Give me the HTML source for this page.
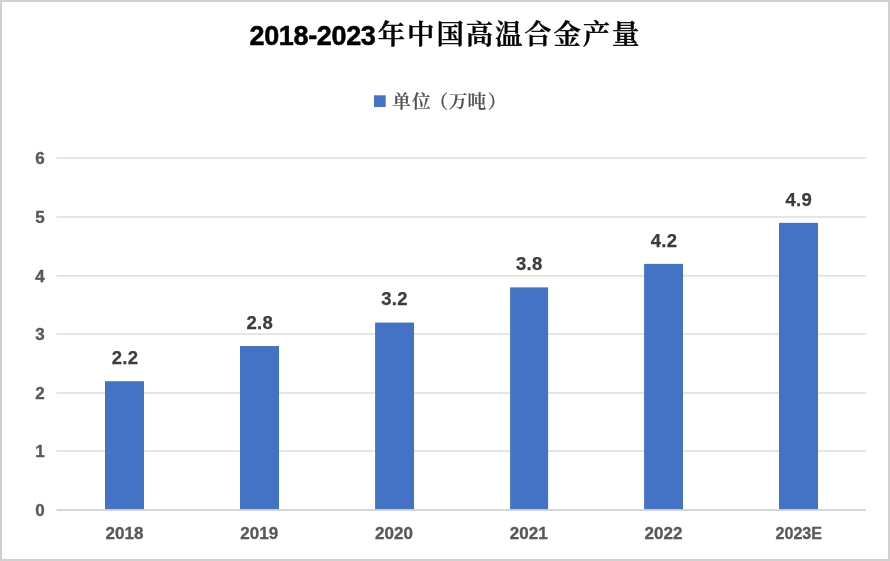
<!DOCTYPE html>
<html lang="zh-CN">
<head>
<meta charset="utf-8">
<title>2018-2023年中国高温合金产量</title>
<style>
html,body{margin:0;padding:0;background:#fff;}
body{width:890px;height:561px;overflow:hidden;position:relative;}
#chart{position:absolute;left:0;top:0;width:890px;height:561px;box-sizing:border-box;border:2px solid #d0d0d0;background:#fff;}
svg{position:absolute;left:0;top:0;display:block;}
.num{font-family:"Liberation Sans",sans-serif;font-weight:bold;}
.cjk{font-family:"Liberation Serif","Noto Serif CJK SC",serif;}
.axis{font-size:17px;fill:#595959;stroke:#595959;stroke-width:0.35px;}
.dl{font-size:18.5px;fill:#3c3c3c;stroke:#3c3c3c;stroke-width:0.25px;letter-spacing:0.4px;}
.ttl-n{font-size:27px;fill:#000;stroke:#000;stroke-width:0.5px;letter-spacing:-0.35px;}
.ttl-c{font-size:27.4px;font-weight:600;fill:#000;stroke:#000;stroke-width:0.45px;letter-spacing:1.9px;}
.lg{font-size:18.67px;font-weight:600;fill:#505050;stroke:#505050;stroke-width:0.2px;}
</style>
</head>
<body>
<div id="chart"></div>
<svg width="890" height="561" viewBox="0 0 890 561">
<rect x="56.5" y="450.25" width="809.5" height="1.5" fill="#dddddd"/>
<rect x="56.5" y="392.25" width="809.5" height="1.5" fill="#dddddd"/>
<rect x="56.5" y="333.25" width="809.5" height="1.5" fill="#dddddd"/>
<rect x="56.5" y="275.05" width="809.5" height="1.5" fill="#dddddd"/>
<rect x="56.5" y="216.25" width="809.5" height="1.5" fill="#dddddd"/>
<rect x="56.5" y="157.25" width="809.5" height="1.5" fill="#dddddd"/>
<rect x="56.5" y="509.25" width="809.5" height="1.5" fill="#c8c8c8"/>
<rect x="105" y="381.23" width="39.0" height="127.87" fill="#4472c4"/>
<rect x="240" y="346.03" width="39.0" height="163.07" fill="#4472c4"/>
<rect x="375.1" y="322.57" width="38.9" height="186.53" fill="#4472c4"/>
<rect x="510.1" y="287.37" width="38.0" height="221.73" fill="#4472c4"/>
<rect x="644.1" y="263.90" width="38.9" height="245.20" fill="#4472c4"/>
<rect x="779" y="222.83" width="39.0" height="286.27" fill="#4472c4"/>
<text class="num axis" x="40" y="516.10" text-anchor="middle">0</text>
<text class="num axis" x="40" y="457.10" text-anchor="middle">1</text>
<text class="num axis" x="40" y="399.10" text-anchor="middle">2</text>
<text class="num axis" x="40" y="340.10" text-anchor="middle">3</text>
<text class="num axis" x="40" y="281.90" text-anchor="middle">4</text>
<text class="num axis" x="40" y="223.10" text-anchor="middle">5</text>
<text class="num axis" x="40" y="164.10" text-anchor="middle">6</text>
<text class="num axis" x="124.50" y="539" text-anchor="middle">2018</text>
<text class="num axis" x="259.25" y="539" text-anchor="middle">2019</text>
<text class="num axis" x="394.00" y="539" text-anchor="middle">2020</text>
<text class="num axis" x="528.75" y="539" text-anchor="middle">2021</text>
<text class="num axis" x="663.50" y="539" text-anchor="middle">2022</text>
<text class="num axis" x="798.75" y="539" text-anchor="middle" textLength="46.5" lengthAdjust="spacingAndGlyphs">2023E</text>
<text class="num dl" x="125.10" y="363.93" text-anchor="middle">2.2</text>
<text class="num dl" x="259.85" y="328.73" text-anchor="middle">2.8</text>
<text class="num dl" x="394.60" y="305.27" text-anchor="middle">3.2</text>
<text class="num dl" x="529.35" y="270.07" text-anchor="middle">3.8</text>
<text class="num dl" x="664.10" y="246.60" text-anchor="middle">4.2</text>
<text class="num dl" x="798.85" y="205.53" text-anchor="middle">4.9</text>
<rect x="374" y="95.3" width="11.7" height="11.7" fill="#4472c4"/>
<text class="cjk lg" x="392.3 411.9 429.4 448.7 467.4 487.8" y="107.5">单位（万吨）</text>
<text><tspan class="num ttl-n" x="249.5" y="45">2018-2023</tspan><tspan class="cjk ttl-c" x="377.8" y="43.8">年中国高温合金产量</tspan></text>
</svg>
</body>
</html>
